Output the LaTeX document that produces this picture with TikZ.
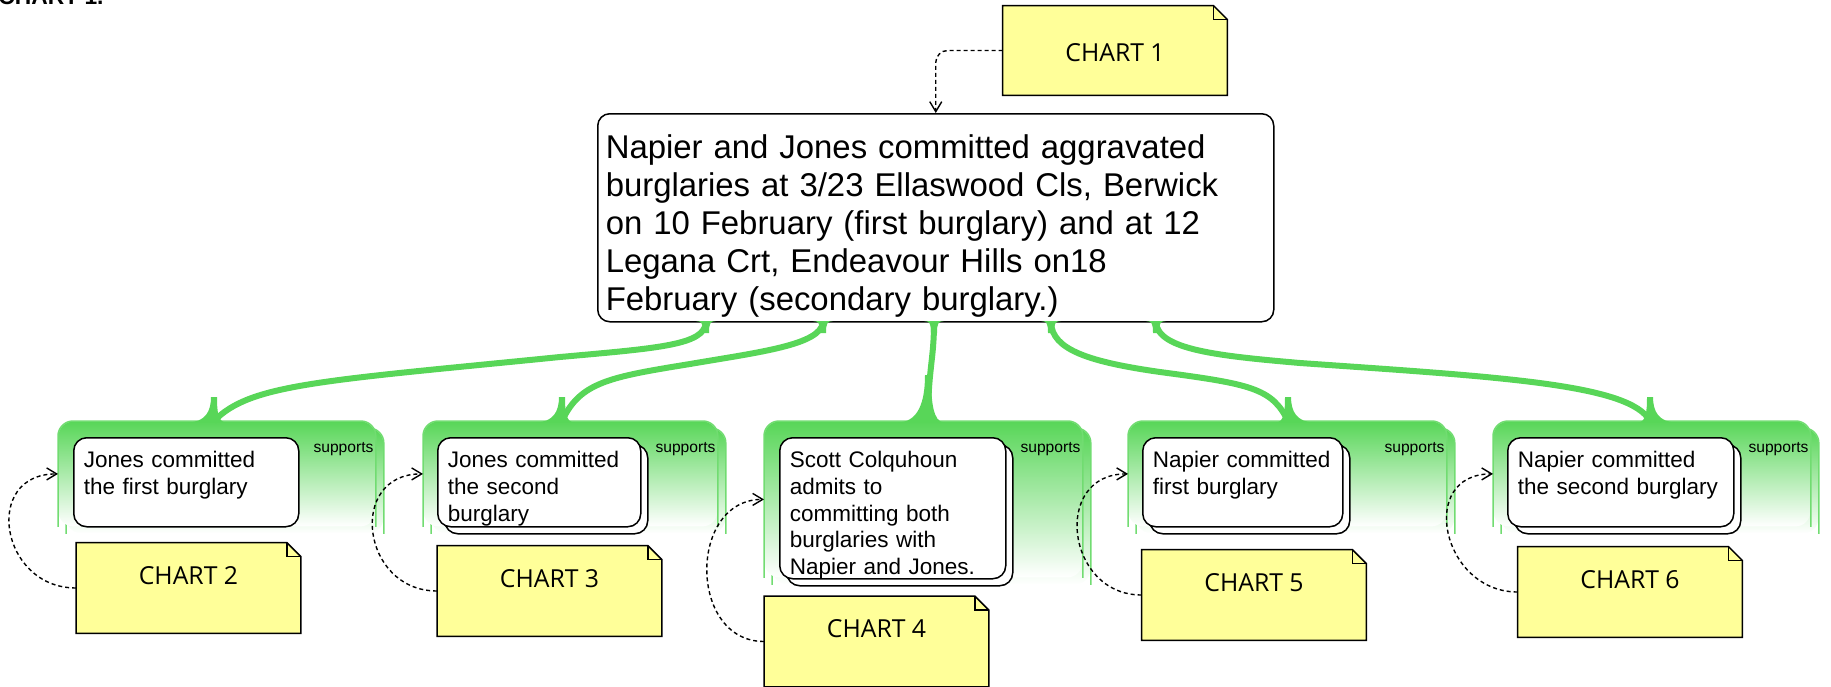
\documentclass[tikz,border=0pt]{standalone}
\usepackage{fontspec}
\setmainfont{Liberation Sans}
\newfontfamily\notefont{Open Sans}
\usetikzlibrary{arrows.meta,shadows}

\definecolor{suppgreen}{RGB}{88,214,88}
\definecolor{noteyellow}{RGB}{255,255,153}

\tikzset{
  claim/.style={draw, fill=white, line width=0.75pt, rounded corners=6.5pt,
    align=left, anchor=north west, inner xsep=5pt, inner ysep=0pt,
    text height=15pt, text depth=29.5pt, font=\fontsize{11.25pt}{13.35pt}\selectfont},
  stacked/.style={copy shadow={shadow xshift=3.5pt, shadow yshift=-3.5pt}},
  panel/.style={top color=suppgreen, bottom color=white, rounded corners=7.5pt,
    inner sep=0pt, anchor=north west},
  panelside/.style={draw=suppgreen!85, line width=0.75pt, rounded corners=7.5pt},
  suplabel/.style={inner sep=0pt, anchor=base east, font=\fontsize{7.8pt}{9pt}\selectfont},
  chartnote/.style={fill=noteyellow, inner sep=0pt, minimum width=112pt,
    text height=20.7pt, text depth=24.3pt, font=\notefont\fontsize{12.4pt}{14pt}\selectfont},
  noteline/.style={draw, line width=0.75pt},
  chartlink/.style={dash pattern=on 2pt off 1.5pt, line width=0.7pt,
    -{Straight Barb[length=5pt,width=6pt]}},
  supline/.style={draw=suppgreen, line width=3pt},
}

\begin{document}
\begin{tikzpicture}[x=0.5pt, y=-0.5pt]
  \useasboundingbox (0,0) rectangle (1831,686);
  % title, cut by the top edge
  \node[inner sep=0pt, anchor=base east, font=\bfseries\fontsize{11.4pt}{13pt}\selectfont]
    (title) at (104,4) {CHART 1.};
  % main claim
  \node[draw, fill=white, line width=0.75pt, rounded corners=6pt, align=left, anchor=north west,
        text width=330pt, inner xsep=4pt, inner ysep=0pt, text height=22.5pt, text depth=81.5pt,
        font=\fontsize{16.45pt}{19pt}\selectfont]
    (main) at (597,113) {Napier and Jones committed aggravated\\
      burglaries at 3/23 Ellaswood Cls, Berwick\\
      on 10 February (first burglary) and at 12\\
      Legana Crt, Endeavour Hills on18\\
      February (secondary burglary.)};
  % support panels: a back copy, then the front one
  \foreach \i/\px/\w/\h in {1/58/158.5pt/52.5pt, 2/423/147pt/52.5pt, 3/764/159pt/78pt,
                            4/1128/159pt/52.5pt, 5/1493/158.5pt/52.5pt} {
    \node[panel, minimum width=\w, minimum height=\h] (back\i) at (\px+8,428) {};
    \draw[panelside] (back\i.south west) |- (back\i.north) -| (back\i.south east);
    \node[panel, minimum width=\w, minimum height=\h] (sup\i) at (\px,421) {};
    \draw[panelside] (sup\i.south west) |- (sup\i.north) -| (sup\i.south east);
    \node[suplabel] (lab\i) at ([shift={(-2,31)}]sup\i.north east) {supports};
  }
  % supporting claims
  \node[claim, text width=102.5pt] (c1) at (73,437) {Jones committed\\the first burglary};
  \node[claim, stacked, text width=91.5pt] (c2) at (437,437) {Jones committed\\the second\\burglary};
  \node[claim, stacked, text width=103pt, text depth=55.5pt] (c3) at (779,437)
    {Scott Colquhoun\\admits to\\committing both\\burglaries with\\Napier and Jones.};
  \node[claim, stacked, text width=90pt] (c4) at (1142,437) {Napier committed\\first burglary};
  \node[claim, stacked, text width=103pt] (c5) at (1507,437) {Napier committed\\the second burglary};
  % green links from the main claim down to the panels
  \draw[supline] (706,0 |- main.south) .. controls (704,345) and (660,348) .. (560,357)
    .. controls (320,381) and (250,384) .. (214,0 |- sup1.north);
  \draw[supline] (823,0 |- main.south) .. controls (820,345) and (760,352) .. (690,364)
    .. controls (610,377) and (580,382) .. (562,0 |- sup2.north);
  \draw[supline] (934,0 |- main.south) .. controls (934,360) and (928,370) .. (928,0 |- sup3.north);
  \draw[supline] (1051,0 |- main.south) .. controls (1052,350) and (1090,362) .. (1160,372)
    .. controls (1250,384) and (1272,388) .. (1288,0 |- sup4.north);
  \draw[supline] (1156,0 |- main.south) .. controls (1158,350) and (1220,356) .. (1300,363)
    .. controls (1500,377) and (1630,384) .. (1650,0 |- sup5.north);
  % flared ends of the links
  \foreach \ex/\lw/\rw/\fh in {214/26/12/24, 562/26/12/24, 928/30/16/46, 1288/12/26/24, 1650/12/26/24}
    \fill[suppgreen] (\ex-\lw,422.5) .. controls (\ex-\lw/3,422) and (\ex-3,421-\fh/2.5) .. (\ex-3,421-\fh)
      -- (\ex+3,421-\fh) .. controls (\ex+3,421-\fh/2.5) and (\ex+\rw/3,422) .. (\ex+\rw,422.5) -- cycle;
  \foreach \sx in {706,823,934,1051,1156}
    \fill[suppgreen] (\sx-10,321) .. controls (\sx-4,321) and (\sx-3,324) .. (\sx-3,333)
      -- (\sx+3,333) .. controls (\sx+3,324) and (\sx+4,321) .. (\sx+10,321) -- cycle;
  % chart notes
  \node[chartnote, text height=27.7pt, text depth=16.8pt] (chart1) at (1115,50.5) {CHART 1};
  \foreach \n/\cx/\cy in {2/188.5/588, 3/549.5/591, 4/876.5/641.5, 5/1254/595, 6/1630/592}
    \node[chartnote] (chart\n) at (\cx,\cy) {CHART \n};
  \foreach \n in {1,...,6} {
    \fill[white] ([xshift=-7pt]chart\n.north east) -| ([yshift=-7pt]chart\n.north east) -- cycle;
    \draw[noteline] (chart\n.south west) -- (chart\n.north west) -- ([xshift=-7pt]chart\n.north east)
      -- ([yshift=-7pt]chart\n.north east) -- (chart\n.south east) -- cycle;
    \draw[noteline] ([xshift=-7pt]chart\n.north east) |- ([yshift=-7pt]chart\n.north east);
  }
  % dashed links from the notes
  \draw[chartlink, rounded corners=6pt] (chart1.west) -| (main.north);
  \draw[chartlink] (chart2.west) to[out=180, in=180, distance=38pt] (sup1.west);
  \draw[chartlink] (chart3.west) to[out=180, in=180, distance=38pt] (sup2.west);
  \draw[chartlink] (chart4.west) to[out=180, in=180, distance=38pt] (sup3.west);
  \draw[chartlink] (chart5.west) to[out=180, in=180, distance=38pt] (sup4.west);
  \draw[chartlink] (chart6.west) to[out=180, in=180, distance=38pt] (sup5.west);
\end{tikzpicture}
\end{document}
